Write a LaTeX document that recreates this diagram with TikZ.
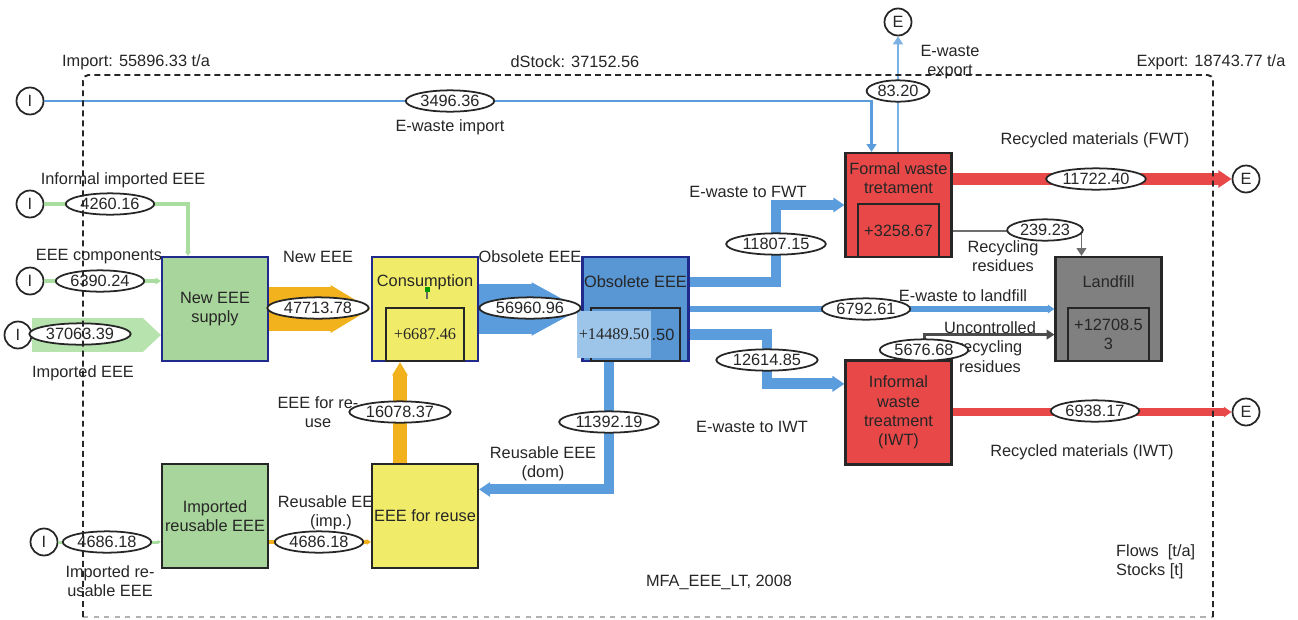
\documentclass[tikz,border=0pt]{standalone}
\usepackage{fontspec}
\setmainfont{Liberation Sans}
\newfontfamily\timesfont{Liberation Serif}
\usetikzlibrary{arrows.meta,shapes.geometric,positioning,calc}

\definecolor{navy}{RGB}{32,42,140}
\definecolor{greenbox}{RGB}{168,213,155}
\definecolor{greenflow}{RGB}{170,222,160}
\definecolor{yellowbox}{RGB}{240,236,105}
\definecolor{orangeflow}{RGB}{242,178,30}
\definecolor{blueflow}{RGB}{91,157,220}
\definecolor{bluebox}{RGB}{88,150,212}
\definecolor{bluepatch}{RGB}{157,197,233}
\definecolor{redbox}{RGB}{232,72,72}
\definecolor{landgray}{RGB}{128,128,128}
\definecolor{residue}{RGB}{110,110,110}

\begin{document}
\begin{tikzpicture}[
        x=0.02cm, y=-0.02cm,
        every node/.style={font=\fontsize{9.3}{11}\selectfont, text=black!85},
        box/.style={rectangle, draw=black!85, line width=1.2pt, minimum width=2.12cm, minimum height=2.08cm, inner sep=1pt, align=center},
        stock/.style={rectangle, draw=black!85, line width=1.1pt, minimum width=1.56cm, minimum height=1.06cm, anchor=south, align=center},
        val/.style={ellipse, draw=black!85, line width=1pt, fill=white, inner sep=1pt},
        port/.style={circle, draw=black!85, line width=1pt, minimum size=0.54cm, inner sep=0pt},
        lbl/.style={align=center},
        flow/.style={line width=#1, -{Triangle[length=0pt 1.1, width=0pt 1.4]}},
        fat/.style={line width=#1, -{Triangle[length=0pt 0.9, width=0pt 1]}},
        wire/.style={line width=#1, -{Triangle[length=4.5pt, width=5.5pt]}}
    ]
    \useasboundingbox (0,0) rectangle (1298,619);

    % Processes
    \node[box, fill=greenbox, draw=navy] (supply) at (215,309) {New EEE\\supply};
    \node[box, fill=yellowbox, draw=navy] (cons) at (425,309) {};
    \node[box, fill=bluebox, draw=navy] (obs) at (635.5,309) {};
    \node[box, fill=redbox] (fwt) at (898.5,205) {};
    \node[box, fill=landgray] (lf) at (1108.5,309) {};
    \node[box, fill=redbox] (iwt) at (898.5,412.5) {Informal\\waste\\treatment\\(IWT)};
    \node[lbl] (reuselbl) at (331,513) {Reusable EEE\\(imp.)};
    \node[box, fill=yellowbox] (reuse) at (425,516) {EEE for reuse};
    \node[box, fill=greenbox] (impre) at (215,516) {Imported\\reusable EEE};

    \node[yshift=-0.52cm] (cons-t) at (cons.north) {Consumption};
    \node[yshift=-0.52cm] (obs-t) at (obs.north) {Obsolete EEE};
    \node[yshift=-0.52cm, lbl] (fwt-t) at (fwt.north) {Formal waste\\tretament};
    \node[yshift=-0.52cm] (lf-t) at (lf.north) {Landfill};

    % Stocks
    \node[stock] (cons-s) at (cons.south) {\timesfont +6687.46};
    \node[stock] (obs-s) at (obs.south) {+14489.50};
    \node[stock] (fwt-s) at (fwt.south) {+3258.67};
    \node[stock] (lf-s) at (lf.south) {+12708.5\\3};
    \node[fill=bluepatch, minimum width=1.48cm, minimum height=0.94cm, inner sep=0pt] (obs-p) at (614,334.5) {\timesfont +14489.50};
    \draw[black!60, line width=0.6pt] (427,289) -- (427,299);
    \fill[green!60!black] (424.5,286.5) rectangle (429.5,291.5);

    % Import / export
    \node[port] (ci1) at (30,101) {I};
    \node[port] (ci2) at (30,204) {I};
    \node[port] (ci3) at (30,281) {I};
    \node[port] (ci4) at (18,335) {I};
    \node[port] (ci5) at (44,542) {I};
    \node[port] (ce1) at (898,22) {E};
    \node[port] (ce2) at (1246,179) {E};
    \node[port] (ce3) at (1246,412) {E};

    \coordinate (fwt-in) at ($(fwt.north west)!.25!(fwt.north east)$);
    \coordinate (lf-in) at ($(lf.north west)!.25!(lf.north east)$);
    \coordinate (supply-in) at ($(supply.north west)!.25!(supply.north east)$);
    \coordinate (iwt-in) at ($(iwt.north west)!.23!(iwt.south west)$);
    \coordinate (reuse-in) at ($(reuse.north east)!.25!(reuse.south east)$);
    \coordinate (k-fwt) at (776,244);
    \coordinate (k-iwt) at (767,360);
    \coordinate (k-dom) at (609,422);
    \coordinate (k-unc) at (924,350);
    \coordinate (k-reu) at (400,412);
    \coordinate (k-imp) at (319,542);

    % Flows
    \draw[wire=1.7pt, draw=blueflow] (ci1) -| (fwt-in);
    \draw[wire=1.1pt, draw=blueflow!80] (fwt.north -| ce1) -- (ce1);
    \draw[flow=6.8pt, draw=redbox] (fwt.east |- ce2) -- (ce2);
    \draw[wire=1.1pt, draw=residue] (fwt.east |- fwt-s) -| (lf-in);
    \draw[flow=5.7pt, draw=blueflow] (obs.east |- obs-t) -| (k-fwt) |- (fwt.west);
    \draw[flow=3.4pt, draw=blueflow] (obs) -- (lf);
    \draw[flow=6.2pt, draw=blueflow] (obs.east |- obs-s) -| (k-iwt) |- (iwt-in);
    \draw[flow=5.7pt, draw=blueflow] (obs.south -| k-dom) |- (reuse-in);
    \draw[wire=1.7pt, draw=black!70] (iwt.north -| k-unc) |- (lf.west |- lf-s);
    \draw[flow=4pt, draw=redbox] (iwt.east |- ce3) -- (ce3);
    \draw[fat=25.5pt, draw=orangeflow] (supply) -- (cons);
    \draw[fat=28.3pt, draw=blueflow, -{Triangle[length=0pt 1, width=0pt 1]}] (cons) -- (obs);
    \draw[fat=8.5pt, draw=orangeflow] (reuse.north -| k-reu) -- (cons.south -| k-reu);
    \draw[flow=2.3pt, draw=orangeflow] (impre.east |- k-imp) -- (reuse.west |- k-imp);
    \draw[flow=2.3pt, draw=greenflow] (ci2) -| (supply-in);
    \draw[flow=2.8pt, draw=greenflow] (ci3) -- (supply.west |- ci3);
    \draw[fat=19.3pt, draw=greenflow!85, -{Triangle[length=0pt .55, width=0pt 1]}] (ci4) -- (supply.west |- ci4);
    \draw[flow=1.7pt, draw=greenflow] (ci5) -- (impre.west |- ci5);

    % Labels
    \node (imp-l) at (136,62) {Import: 55896.33 t/a};
    \node (dst-l) at (575,62) {dStock: 37152.56};
    \node (exp-l) at (1211,62) {Export: 18743.77 t/a};
    \node (wimp-l) at (450,127) {E-waste import};
    \node[lbl] (wexp-l) at (950,62) {E-waste\\export};
    \node (rfwt-l) at (1095,140) {Recycled materials (FWT)};
    \node (tofwt-l) at (748,192) {E-waste to FWT};
    \node[lbl] (res-l) at (1003,256) {Recycling\\residues};
    \node (tolf-l) at (963,296) {E-waste to landfill};
    \node[lbl] (unc-l) at (990,347) {Uncontrolled\\recycling\\residues};
    \node (riwt-l) at (1082,452) {Recycled materials (IWT)};
    \node (toiwt-l) at (752,427) {E-waste to IWT};
    \node[lbl] (dom-l) at (543,464) {Reusable EEE\\(dom)};
    \node (obs-l) at (530,257) {Obsolete EEE};
    \node (new-l) at (318,257) {New EEE};
    \node[lbl] (reu-l) at (318,412) {EEE for re-\\use};
    \node (inf-l) at (123,180) {Informal imported EEE};
    \node (comp-l) at (99,257) {EEE components};
    \node (iee-l) at (83,373) {Imported EEE};
    \node[lbl] (ire-l) at (110,581) {Imported re-\\usable EEE};
    \node (mfa-l) at (719,582) {MFA\_EEE\_LT, 2008};
    \node[lbl, align=left, anchor=west] (unit-l) at (1110,562) {Flows~~[t/a]\\Stocks [t]};

    % Values
    \node[val] (v3496) at (450,101) {3496.36};
    \node[val] (v8320) at (898,91) {83.20};
    \node[val] (v11722) at (1096,179) {11722.40};
    \node[val] (v239) at (1045,230) {239.23};
    \node[val] (v6792) at (866,309) {6792.61};
    \node[val] (v5676) at (k-unc) {5676.68};
    \node[val] (v6938) at (1095,411) {6938.17};
    \node[val] (v11807) at (k-fwt) {11807.15};
    \node[val] (v12614) at (k-iwt) {12614.85};
    \node[val] (v11392) at (k-dom) {11392.19};
    \node[val] (v56960) at (530,308) {56960.96};
    \node[val] (v47713) at (318,308) {47713.78};
    \node[val] (v16078) at (k-reu) {16078.37};
    \node[val] (v4686b) at (k-imp) {4686.18};
    \node[val] (v4686a) at (107,542) {4686.18};
    \node[val] (v4260) at (110,204) {4260.16};
    \node[val] (v6390) at (100,281) {6390.24};
    \node[val] (v37063) at (80,334) {37063.39};

    % System boundary
    \draw[dashed, black!30, line width=1pt] (83,617) -- (1213,617);
    \draw[black!85, line width=1.1pt, dash pattern=on 3.4pt off 2.3pt, rounded corners=3pt] (83,617) -- (83,75) -- (1213,75) -- (1213,617);

\end{tikzpicture}
\end{document}
